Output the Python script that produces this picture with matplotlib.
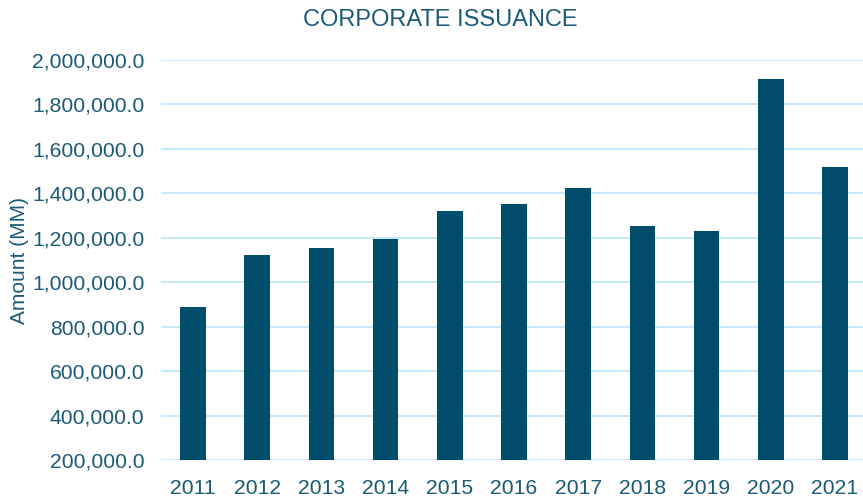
import matplotlib.pyplot as plt
from matplotlib.ticker import FuncFormatter

plt.rcParams['font.family'] = ['Liberation Sans', 'DejaVu Sans']

years = ['2011', '2012', '2013', '2014', '2015', '2016', '2017', '2018', '2019', '2020', '2021']
amounts = [890000, 1122500, 1152500, 1193000, 1322000, 1350500, 1424000, 1253000, 1229000, 1913000, 1518500]

text_col = '#1b5a78'
bar_col = '#034d6c'
grid_col = '#c4eafb'

fig = plt.figure(figsize=(8.63, 4.97), dpi=100)
ax = fig.add_axes([161 / 863, 37 / 497, 706 / 863, 400 / 497])

ax.bar(range(len(years)), amounts, width=0.4, color=bar_col, zorder=3)
ax.set_xlim(-0.5, len(years) - 0.5)
ax.set_ylim(200000, 2000000)
ax.set_yticks(range(200000, 2000001, 200000))
ax.yaxis.set_major_formatter(FuncFormatter(lambda v, p: f'{v:,.1f}'))
ax.set_xticks(range(len(years)))
ax.set_xticklabels(years)

ax.grid(axis='y', color=grid_col, linewidth=1.4, zorder=0)
ax.set_axisbelow(True)
for s in ax.spines.values():
    s.set_visible(False)
ax.tick_params(length=0, labelsize=15.2, colors=text_col)
ax.tick_params(axis='y', pad=12)
ax.tick_params(axis='x', pad=14)

ax.set_ylabel('Amount (MM)', fontsize=15, color=text_col)
ax.yaxis.set_label_coords(-0.187, 0.5)
fig.text(0.51, 0.96, 'CORPORATE ISSUANCE', ha='center', va='center',
         fontsize=17, color=text_col)

fig.savefig('out.png', dpi=100)
